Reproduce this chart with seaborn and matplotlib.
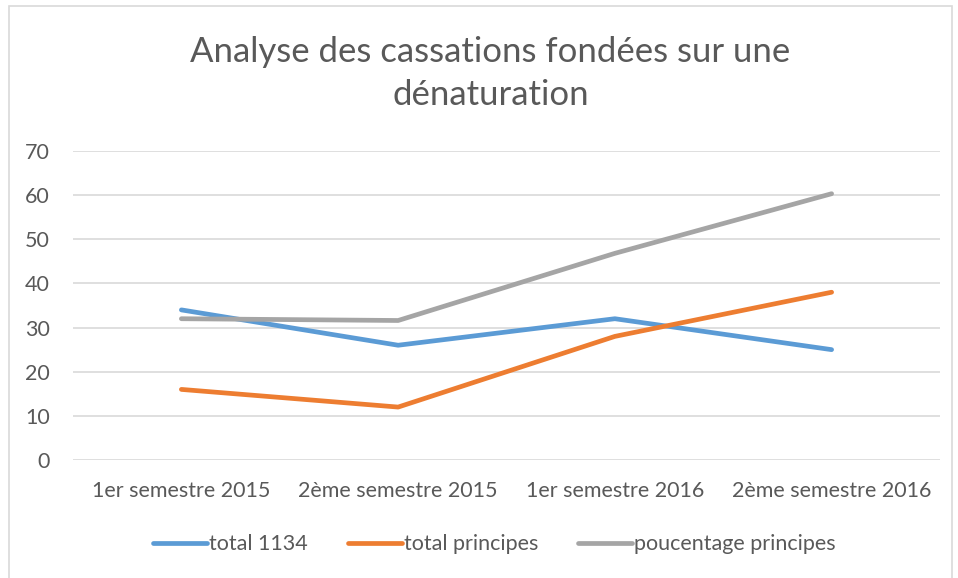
import pandas as pd
import seaborn as sns
from matplotlib import pyplot as plt
from matplotlib.patches import Rectangle

periodes = ['1er semestre 2015', '2ème semestre 2015', '1er semestre 2016', '2ème semestre 2016']
total_1134 = [34, 26, 32, 25]
total_principes = [16, 12, 28, 38]
pourcentage_principes = [32, 31.6, 46.8, 60.3]
series_names = ['total 1134', 'total principes', 'poucentage principes']
palette = ['#5B9BD5', '#ED7D31', '#A5A5A5']

df = pd.DataFrame({
    'periode': periodes * 3,
    'valeur': total_1134 + total_principes + pourcentage_principes,
    'serie': [series_names[0]] * 4 + [series_names[1]] * 4 + [series_names[2]] * 4,
})

sns.set_style('white')
plt.rcParams['font.family'] = ['Lato', 'DejaVu Sans']
text_color = '#595959'

fig = plt.figure(figsize=(9.58, 5.78), dpi=100)
ax = fig.add_axes([0.0762, 0.204, 0.905, 0.535])

sns.lineplot(data=df, x='periode', y='valeur', hue='serie', palette=palette,
             linewidth=3.4, sort=False, ax=ax, legend=False)
for line in ax.lines:
    line.set_solid_capstyle('round')
    line.set_solid_joinstyle('round')

ax.set_xlim(-0.5, 3.5)
ax.set_ylim(0, 70)
ax.set_yticks(range(0, 71, 10))
ax.grid(axis='y', color='#D9D9D9', linewidth=1.2)
ax.set_axisbelow(True)
for s in ax.spines.values():
    s.set_visible(False)
ax.tick_params(axis='both', length=0, labelsize=15.5, labelcolor=text_color)
ax.tick_params(axis='y', pad=16.5)
ax.tick_params(axis='x', pad=15)
ax.set_xlabel('')
ax.set_ylabel('')

fig.text(0.512, 0.873, 'Analyse des cassations fondées sur une\ndénaturation', ha='center',
         va='center', fontsize=25, color=text_color, linespacing=1.42)

handles = [plt.Line2D([], [], color=c, linewidth=3.4, solid_capstyle='round') for c in palette]
fig.legend(handles, series_names, loc='center', bbox_to_anchor=(0.516, 0.058), ncol=3,
           frameon=False, fontsize=15.5, labelcolor=text_color, handlelength=2.5,
           handletextpad=0.1, columnspacing=1.85)

fig.patches.append(Rectangle((0.009, -0.01), 0.985, 1.0, transform=fig.transFigure,
                             fill=False, edgecolor='#D9D9D9', linewidth=1.2))

fig.savefig('out.png', dpi=100)
